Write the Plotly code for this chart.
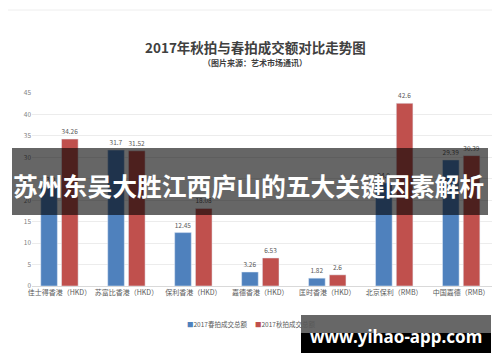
import plotly.graph_objects as go

categories = ["佳士得香港（HKD）", "苏富比香港（HKD）", "保利香港（HKD）", "嘉德香港（HKD）",
              "匡时香港（HKD）", "北京保利（RMB）", "中国嘉德（RMB）"]
spring = [23.0, 31.7, 12.45, 3.26, 1.82, 24.0, 29.39]
autumn = [34.26, 31.52, 18.08, 6.53, 2.6, 42.6, 30.39]
series_names = ["2017春拍成交总额", "2017秋拍成交总额"]
series_colors = ["#4f81bd", "#c0504d"]
y_ticks = [0, 5, 10, 15, 20, 25, 30, 35, 40, 45]

# the page body adds an 8px offset; design in screen pixels and compensate
OFF = 8
W, H = 500, 362
SL, SR, ST, SB = 32, 494, 93, 286          # plot area in screen pixels
L, T = SL - OFF, ST - OFF
R = W - (SR - OFF)
B = H - (SB - OFF)
PW, PH = W - L - R, H - T - B

def px(x):
    return (x - OFF - L) / PW

def py(y):
    return (H - B - (y - OFF)) / PH

x = list(range(len(categories)))
fig = go.Figure()
for vals, name, col in [(spring, series_names[0], series_colors[0]),
                        (autumn, series_names[1], series_colors[1])]:
    fig.add_bar(x=x, y=vals, name=name, marker_color=col,
                text=[str(v) for v in vals], textposition="outside",
                textfont=dict(size=6.5, color="#595959"), cliponaxis=False,
                showlegend=False)

fig.update_layout(
    width=W, height=H, margin=dict(l=L, r=R, t=T, b=B, autoexpand=False),
    paper_bgcolor="white", plot_bgcolor="white",
    barmode="group", bargap=0.38, bargroupgap=0.2,
    font=dict(family="Noto Sans CJK SC", color="#595959"),
    xaxis=dict(tickvals=x, ticktext=categories, range=[-0.41, 6.49],
               tickfont=dict(size=7, color="#595959"), showgrid=False,
               showline=True, linecolor="#d9d9d9", ticks="", zeroline=False),
    yaxis=dict(range=[0, 45], tickvals=y_ticks, tickfont=dict(size=6.5, color="#7f7f7f"),
               gridcolor="#ececec", showline=False, zeroline=False, ticks=""),
    showlegend=False,
)

# legend drawn as text
legend_x = [217, 285]
for lx, name, col in zip(legend_x, series_names, series_colors):
    fig.add_annotation(xref="paper", yref="paper", x=px(lx), y=py(324),
                       text=f'<span style="color:{col}">■</span>{name}', showarrow=False,
                       font=dict(size=6.5, color="#595959", family="Noto Sans CJK SC"),
                       xanchor="center", yanchor="middle")

# title and subtitle
fig.add_annotation(xref="paper", yref="paper", x=px(255), y=py(47),
                   text="<b>2017年秋拍与春拍成交额对比走势图</b>", showarrow=False,
                   font=dict(size=13.5, color="#404040", family="Noto Sans CJK SC"),
                   xanchor="center", yanchor="middle")
fig.add_annotation(xref="paper", yref="paper", x=px(255), y=py(62),
                   text="<b>（图片来源：艺术市场通讯）</b>", showarrow=False,
                   font=dict(size=8, color="#404040", family="Noto Sans CJK SC"),
                   xanchor="center", yanchor="middle")

# top faint line
fig.add_shape(type="line", xref="paper", yref="paper", x0=px(0), x1=px(500),
              y0=py(10), y1=py(10), line=dict(color="#eeeeee", width=1))

# banner overlay
fig.add_shape(type="rect", xref="paper", yref="paper", x0=px(12), x1=px(488),
              y0=py(215), y1=py(148), fillcolor="rgba(0,0,0,0.6)", line=dict(width=0),
              layer="above")
fig.add_annotation(xref="paper", yref="paper", x=px(248), y=py(185),
                   text="<b>苏州东吴大胜江西庐山的五大关键因素解析</b>", showarrow=False,
                   font=dict(size=24.8, color="white", family="Noto Sans CJK SC"),
                   xanchor="center", yanchor="middle")

# watermark
fig.add_shape(type="rect", xref="paper", yref="paper", x0=px(301), x1=px(491),
              y0=py(333), y1=py(315), fillcolor="rgba(90,90,90,0.92)", line=dict(width=0),
              layer="above")
fig.add_shape(type="rect", xref="paper", yref="paper", x0=px(301), x1=px(491),
              y0=py(353), y1=py(333), fillcolor="black", line=dict(width=0),
              layer="above")
fig.add_annotation(xref="paper", yref="paper", x=px(396), y=py(336),
                   text="<b>www.yihao-app.com</b>", showarrow=False,
                   font=dict(size=17, color="white", family="Noto Sans"),
                   xanchor="center", yanchor="middle")

fig.write_html("out.html")
